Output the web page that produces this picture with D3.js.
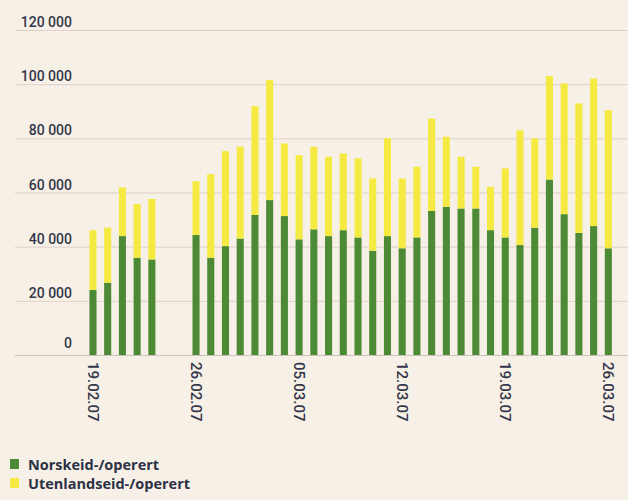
<!DOCTYPE html>
<html>
<head>
<meta charset="utf-8">
<script src="https://cdn.jsdelivr.net/npm/d3@7"></script>
<style>
  body { margin: 0; background: #f7f0e7; }
  svg { display: block; }
</style>
</head>
<body>
<svg id="chart" width="628" height="500"></svg>
<script>
// dates with data (24.02 and 25.02 have no bars)
var days = ["19.02.07", "20.02.07", "21.02.07", "22.02.07", "23.02.07",
  "26.02.07", "27.02.07", "28.02.07", "01.03.07", "02.03.07", "03.03.07", "04.03.07",
  "05.03.07", "06.03.07", "07.03.07", "08.03.07", "09.03.07", "10.03.07", "11.03.07",
  "12.03.07", "13.03.07", "14.03.07", "15.03.07", "16.03.07", "17.03.07", "18.03.07",
  "19.03.07", "20.03.07", "21.03.07", "22.03.07", "23.03.07", "24.03.07", "25.03.07",
  "26.03.07"];
var norsk = [24000, 26700, 43900, 35900, 35300,
  44300, 35900, 40200, 43000, 51700, 57200, 51300,
  42700, 46400, 43900, 46100, 43400, 38500, 43900,
  39400, 43400, 53200, 54700, 54100, 54100, 46100,
  43400, 40600, 47000, 64800, 52000, 45100, 47600,
  39400];
var utenlands = [22100, 20300, 18000, 19800, 22300,
  19900, 30900, 35100, 33900, 40200, 44300, 26800,
  31100, 30500, 29300, 28300, 29200, 26700, 36100,
  25800, 26100, 34100, 25900, 19100, 15400, 16000,
  25500, 42400, 33000, 38200, 48300, 47800, 54500,
  51000];
var tickDays = ["19.02.07", "26.02.07", "05.03.07", "12.03.07", "19.03.07", "26.03.07"];
var yTicks = [0, 20000, 40000, 60000, 80000, 100000, 120000];
var seriesNames = ["Norskeid-/operert", "Utenlandseid-/operert"];
var colors = ["#4d8a35", "#f4ea42"];

var svg = d3.select("#chart");
var parse = d3.timeParse("%d.%m.%y");
var fmt = d3.timeFormat("%d.%m.%y");

// every calendar day in the period gets a slot
var allDays = d3.timeDay.range(parse(days[0]), d3.timeDay.offset(parse(days[days.length - 1]), 1)).map(fmt);

var x = d3.scaleBand()
  .domain(allDays)
  .range([85.6, 615.7])
  .paddingInner(0.52)
  .paddingOuter(0.26);

var y = d3.scaleLinear()
  .domain([0, 120000])
  .range([355, 30]);

// gridlines + labels
var fmtNum = function(v) { return d3.format(",")(v).replace(/,/g, " "); };
var grid = svg.append("g");
grid.selectAll("line")
  .data(yTicks)
  .enter()
  .append("line")
  .attr("x1", 15)
  .attr("x2", 628)
  .attr("y1", function(d) { return y(d) + 0.5; })
  .attr("y2", function(d) { return y(d) + 0.5; })
  .attr("stroke", function(d) { return d == 0 ? "#c9c2ba" : "#e0cfc9"; })
  .attr("stroke-width", 1);
grid.selectAll("text")
  .data(yTicks)
  .enter()
  .append("text")
  .attr("x", 72)
  .attr("y", function(d) { return y(d) - (d == 0 ? 7 : 3); })
  .attr("text-anchor", "end")
  .attr("font-family", "Roboto, sans-serif")
  .attr("font-size", "14px")
  .attr("font-weight", 500)
  .attr("fill", "#33364a")
  .text(fmtNum);

// stacked bars
var rows = days.map(function(d, i) {
  return { day: d, norsk: norsk[i], utenlands: utenlands[i] };
});
var stack = d3.stack().keys(["norsk", "utenlands"]);
var layers = stack(rows);

svg.append("g")
  .selectAll("g")
  .data(layers)
  .enter()
  .append("g")
  .attr("fill", function(d, i) { return colors[i]; })
  .selectAll("rect")
  .data(function(d) { return d; })
  .enter()
  .append("rect")
  .attr("x", function(d) { return x(d.data.day); })
  .attr("width", x.bandwidth())
  .attr("y", function(d) { return y(d[1]); })
  .attr("height", function(d) { return y(d[0]) - y(d[1]); });

// x labels, rotated
svg.append("g")
  .selectAll("text")
  .data(tickDays)
  .enter()
  .append("text")
  .attr("transform", function(d) {
    return "translate(" + (x(d) + x.bandwidth() / 2) + ",362) rotate(90)";
  })
  .attr("dy", "0.35em")
  .attr("font-family", "Roboto, sans-serif")
  .attr("font-size", "15px")
  .attr("font-weight", 500)
  .attr("fill", "#33364a")
  .text(function(d) { return d; });

// legend
var legend = svg.append("g")
  .selectAll("g")
  .data(seriesNames)
  .enter()
  .append("g")
  .attr("transform", function(d, i) { return "translate(10," + (459 + i * 19) + ")"; });
legend.append("rect")
  .attr("width", 9)
  .attr("height", 10)
  .attr("fill", function(d, i) { return colors[i]; });
legend.append("text")
  .attr("x", 18)
  .attr("y", 10.5)
  .attr("font-family", "'Open Sans', sans-serif")
  .attr("font-size", "14.5px")
  .attr("font-weight", 700)
  .attr("fill", "#2c3044")
  .text(function(d) { return d; });
</script>
</body>
</html>
